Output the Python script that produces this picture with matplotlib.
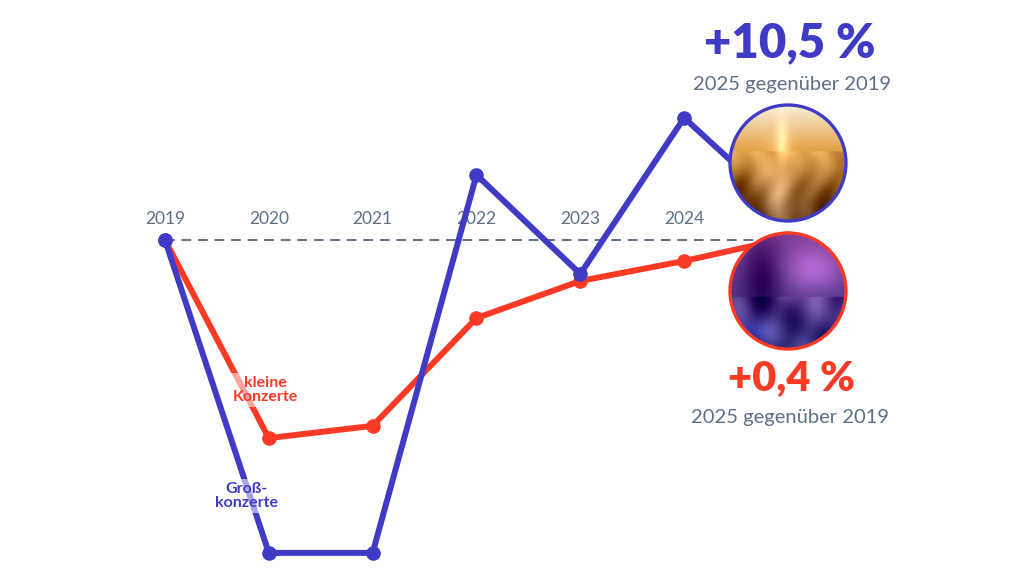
import numpy as np
import matplotlib
matplotlib.use("Agg")
import matplotlib.pyplot as plt
from matplotlib.patches import Circle

# ── data (change vs. 2019) ──
years = [2019, 2020, 2021, 2022, 2023, 2024, 2025]
gross = [0, -89.4, -89.4, 18.6, -9.7, 34.9, 7.7]      # Großkonzerte
klein = [0, -56.6, -53.1, -22.3, -11.7, -6.0, 0.6]    # kleine Konzerte
year_labels = ["2019", "2020", "2021", "2022", "2023", "2024"]
gross_head = "+10,5 %"
klein_head = "+0,4 %"
sub_text = "2025 gegenüber 2019"

BLUE = "#3f3bc6"
RED = "#fb3a26"
SLATE = "#5d7088"
plt.rcParams["font.family"] = ["Lato", "DejaVu Sans"]

fig = plt.figure(figsize=(10.24, 5.76), dpi=100)
ax = fig.add_axes([0, 0, 1, 1])
ax.set_xlim(2017.411, 2027.273)
ax.set_ylim(-96.0, 68.57)
ax.axis("off")

# baseline
ax.plot([years[0], years[-1]], [0, 0], ls=(0, (5, 3.5)), lw=1.4, color=SLATE, zorder=1)

ax.plot(years, klein, color=RED, lw=4.3, marker="o", ms=9.5,
        solid_joinstyle="round", solid_capstyle="round", zorder=3)
ax.plot(years, gross, color=BLUE, lw=4.3, marker="o", ms=9.5,
        solid_joinstyle="round", solid_capstyle="round", zorder=4)

for yr, lab in zip(years, year_labels):
    ax.annotate(lab, (yr, 0), xytext=(0, 21), textcoords="offset pixels",
                ha="center", va="center", fontsize=12.5, color=SLATE)

lab_box = dict(facecolor="white", alpha=0.55, edgecolor="none", pad=2.5)
ax.text(2019.963, -42.9, "kleine\nKonzerte", ha="center", va="center", color=RED,
        fontsize=11.5, weight="bold", linespacing=0.95, bbox=lab_box, zorder=5)
ax.text(2019.788, -73.1, "Groß-\nkonzerte", ha="center", va="center", color=BLUE,
        fontsize=11.5, weight="bold", linespacing=0.95, bbox=lab_box, zorder=5)

# ── decorative photo circles (pixel overlay) ──
deco = fig.add_axes([0, 0, 1, 1], zorder=10)
deco.set_xlim(0, 1024)
deco.set_ylim(576, 0)
deco.axis("off")
deco.patch.set_alpha(0)

bx, by = ax.transData.transform((years[-1], 0))
by = 576 - by
R = 58


def blob(xx, yy, x0, y0, sx, sy):
    return np.exp(-(((xx - x0) / sx) ** 2 + ((yy - y0) / sy) ** 2))


def festival(n=180):
    yy, xx = np.mgrid[0:1:n * 1j, 0:1:n * 1j]
    t = yy[..., None]
    top = np.array([0.97, 0.94, 0.84])
    mid = np.array([0.90, 0.64, 0.30])
    bot = np.array([0.45, 0.28, 0.14])
    img = np.where(t < 0.38, top + (mid - top) * (t / 0.38),
                   mid + (bot - mid) * ((t - 0.38) / 0.62))
    heads = (yy > 0.4) * 0.06 * (np.sin(xx * 23 + np.sin(yy * 9) * 2) + np.sin(xx * 11 - yy * 7))
    person = blob(xx, yy, 0.42, 0.65, 0.11, 0.28) + blob(xx, yy, 0.45, 0.33, 0.05, 0.18)
    dark = blob(xx, yy, 0.12, 0.75, 0.15, 0.2) + blob(xx, yy, 0.85, 0.8, 0.12, 0.25)
    img = img - heads[..., None] + 0.22 * person[..., None] - 0.2 * dark[..., None]
    return np.clip(img, 0, 1)


def club(n=180):
    yy, xx = np.mgrid[0:1:n * 1j, 0:1:n * 1j]
    t = yy[..., None]
    top = np.array([0.50, 0.25, 0.60])
    bot = np.array([0.18, 0.17, 0.48])
    img = top + (bot - top) * t
    img = img + 0.30 * blob(xx, yy, 0.72, 0.32, 0.25, 0.2)[..., None] * np.array([1.0, 0.6, 0.9])
    crowd = (yy > 0.55) * 0.07 * (np.sin(xx * 19 + yy * 5) + np.sin(xx * 9 - yy * 13))
    img = img - crowd[..., None]
    singer = blob(xx, yy, 0.28, 0.38, 0.16, 0.36)
    img = img - 0.22 * singer[..., None]
    img = img + 0.25 * blob(xx, yy, 0.2, 0.85, 0.15, 0.1)[..., None] * np.array([0.3, 0.5, 1.0])
    return np.clip(img, 0, 1)


for (cy, pic, col) in [(by - 77, festival(), BLUE), (by + 51, club(), RED)]:
    im = deco.imshow(pic, extent=(bx - R, bx + R, cy + R, cy - R), aspect="auto", zorder=1)
    im.set_clip_path(Circle((bx, cy), R, transform=deco.transData))
    deco.add_patch(Circle((bx, cy), R, fill=False, edgecolor=col, lw=2.4, zorder=2))

deco.text(bx + 2, by - 197, gross_head, ha="center", va="center", color=BLUE,
          fontsize=34, weight="heavy")
deco.text(bx + 4, by - 155, sub_text, ha="center", va="center", color=SLATE, fontsize=14.5)
deco.text(bx + 3, by + 139, klein_head, ha="center", va="center", color=RED,
          fontsize=30, weight="heavy")
deco.text(bx + 2, by + 178, sub_text, ha="center", va="center", color=SLATE, fontsize=14.5)

fig.savefig("out.png", dpi=100)
